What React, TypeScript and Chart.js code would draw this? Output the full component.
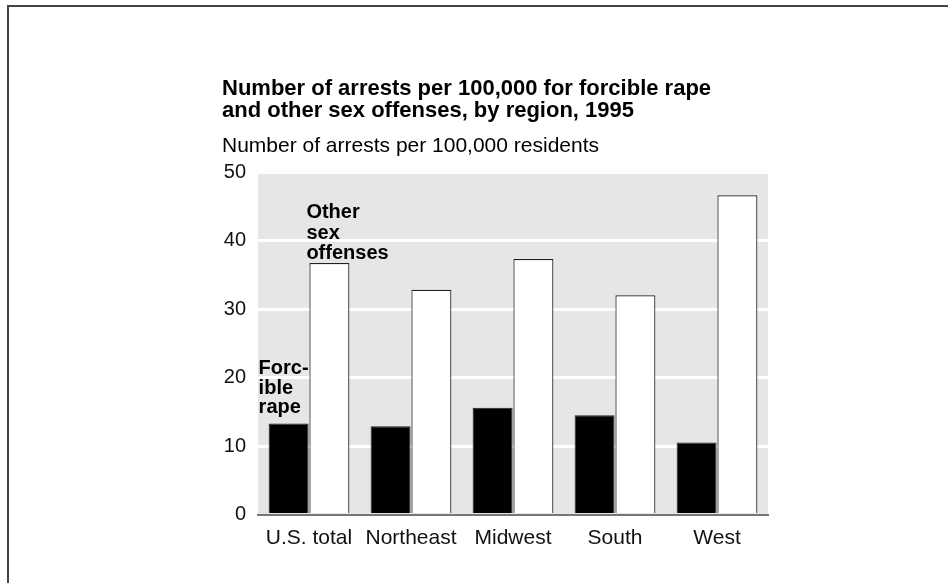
import React, { useEffect, useRef } from "react";
import { Chart, registerables } from "chart.js";

Chart.register(...registerables);

const regions = ["U.S. total", "Northeast", "Midwest", "South", "West"];
const forcibleRape = [13.3, 12.9, 15.6, 14.5, 10.5];
const otherSexOffenses = [36.7, 32.8, 37.3, 32.0, 46.6];
const yTicks = [0, 10, 20, 30, 40, 50];
const titleLines = [
  "Number of arrests per 100,000 for forcible rape",
  "and other sex offenses, by region, 1995",
];
const subtitle = "Number of arrests per 100,000 residents";
const forcibleLabel = ["Forc-", "ible", "rape"];
const otherLabel = ["Other", "sex", "offenses"];

const FONT = "'Liberation Sans', Arial, Helvetica, sans-serif";

export default function App() {
  const ref = useRef<HTMLCanvasElement | null>(null);

  useEffect(() => {
    if (!ref.current) return;
    const bgPlugin = {
      id: "bg",
      beforeDraw(chart: any) {
        const { ctx, chartArea } = chart;
        ctx.save();
        ctx.fillStyle = "#e6e6e6";
        ctx.fillRect(chartArea.left, chartArea.top, chartArea.right - chartArea.left, chartArea.bottom - chartArea.top);
        ctx.restore();
      },
    };
    const textPlugin = {
      id: "texts",
      afterDraw(chart: any) {
        const { ctx } = chart;
        ctx.save();
        ctx.fillStyle = "#000";
        ctx.textAlign = "left";
        ctx.textBaseline = "alphabetic";
        ctx.font = `bold 22px ${FONT}`;
        ctx.fillText(titleLines[0], 222, 95);
        ctx.fillText(titleLines[1], 222, 117);
        ctx.font = `21px ${FONT}`;
        ctx.fillText(subtitle, 222, 152);

        ctx.font = `bold 20px ${FONT}`;
        const m0 = chart.getDatasetMeta(0).data[0] as any;
        const m1 = chart.getDatasetMeta(1).data[0] as any;
        if (m0) {
          const x = m0.x - m0.width / 2 - 10;
          const base = m0.y - 10;
          forcibleLabel.forEach((t, i) => {
            ctx.fillText(t, x, base - (forcibleLabel.length - 1 - i) * 19.5);
          });
        }
        if (m1) {
          const x = m1.x - m1.width / 2 - 3;
          const base = m1.y - 4;
          otherLabel.forEach((t, i) => {
            ctx.fillText(t, x, base - (otherLabel.length - 1 - i) * 20.5);
          });
        }
        ctx.restore();
      },
    };

    const chart = new Chart(ref.current, {
      type: "bar",
      data: {
        labels: regions,
        datasets: [
          {
            label: "Forcible rape",
            data: forcibleRape,
            backgroundColor: "#000000",
            borderColor: "#222222",
            borderWidth: 1,
          },
          {
            label: "Other sex offenses",
            data: otherSexOffenses,
            backgroundColor: "#ffffff",
            borderColor: "#222222",
            borderWidth: 1.2,
          },
        ],
      },
      options: {
        responsive: false,
        animation: false,
        events: [],
        layout: { padding: { left: 0, top: 172, right: 180, bottom: 28.5 } },
        datasets: {
          bar: { categoryPercentage: 0.8, barPercentage: 0.98 },
        },
        plugins: {
          legend: { display: false },
          title: { display: false },
          tooltip: { enabled: false },
        },
        scales: {
          x: {
            grid: { display: false, drawTicks: false },
            border: { display: true, color: "#777777", width: 2 },
            ticks: {
              color: "#111",
              font: { family: FONT, size: 21 },
              padding: 11,
              maxRotation: 0,
              autoSkip: false,
            },
            afterFit(scale: any) {
              scale.height = 40;
            },
          },
          y: {
            min: 0,
            max: 50,
            afterBuildTicks(scale: any) {
              scale.ticks = yTicks.map((v) => ({ value: v }));
            },
            grid: {
              color: (c: any) => (c.tick && c.tick.value === 0 ? "rgba(0,0,0,0)" : "#ffffff"),
              lineWidth: 3,
              drawTicks: false,
            },
            border: { display: false },
            ticks: {
              color: "#111",
              font: { family: FONT, size: 20 },
              padding: 12,
            },
            afterFit(scale: any) {
              scale.width = 258;
            },
          },
        },
      },
      plugins: [bgPlugin, textPlugin],
    });
    return () => chart.destroy();
  }, []);

  return (
    <div style={{ position: "fixed", left: 0, top: 0, width: 948, height: 583, background: "#fff", overflow: "hidden" }}>
      <div
        style={{
          position: "absolute",
          left: 7,
          top: 5,
          width: 960,
          height: 600,
          borderLeft: "2px solid #444",
          borderTop: "2px solid #444",
        }}
      />
      <canvas ref={ref} width={948} height={583} style={{ position: "absolute", left: 0, top: 0 }} />
    </div>
  );
}
